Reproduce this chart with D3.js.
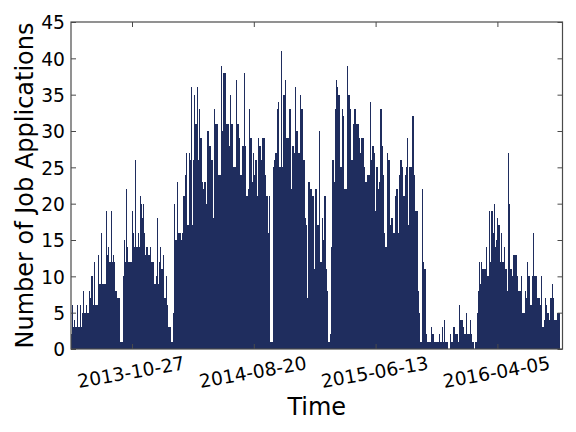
<!DOCTYPE html>
<html><head><meta charset="utf-8">
<script src="https://cdn.jsdelivr.net/npm/d3@7"></script>
<style>body{margin:0;background:#fff}svg{display:block}text{font-family:"DejaVu Sans",sans-serif}</style>
</head><body><svg id="c" width="576" height="432"></svg>
<script>
// Daily job applications (six consecutive chunks)
const appsA = [2,6,3,4,3,3,6,3,3,6,3,5,8,5,5,6,5,5,8,7,10,10,6,12,6,6,6,13,9,9,16,9,9,9,9,19,13,14,12,12,19,12,13,12,8,8,7,7,7,1,1,1,10,15,12,22,14,12,12,12,12,19,16,14,26,14,14,16,14,21,20,18,20,16,13,14,14,13,13,14,12,12];
const appsB = [12,9,9,10,18,9,12,14,11,11,13,7,7,10,6,3,3,3,1,1,5,20,15,15,23,16,16,16,15,16,21,21,24,27,17,17,27,26,36,17,26,35,31,31,36,26,33,29,29,23,22,23,23,20,30,30,28,28,26,26,18,33,31,31,31,24,24,24,39,30,38,38,38,31,31,31,28,35,31,31,25,25];
const appsC = [25,37,31,31,29,24,24,28,28,38,28,21,21,22,33,29,29,23,27,24,26,26,21,29,28,28,26,29,29,29,24,21,21,16,21,1,1,1,25,26,27,27,33,34,25,25,41,25,35,35,37,29,29,29,33,33,22,28,28,27,36,30,30,27,27,35,33,33,26,26,18,17,7,23,23,22,22,21,21,11,22,22];
const appsD = [17,17,30,12,12,18,15,21,21,11,8,1,1,2,14,26,26,23,33,37,36,35,35,25,25,33,32,22,22,22,39,35,35,33,26,26,31,33,33,31,31,31,29,27,29,29,29,25,23,23,24,24,24,34,26,28,28,27,19,25,25,22,23,33,33,28,24,16,14,14,27,26,26,17,18,18,16,16,21,22,22,16];
const appsE = [24,26,26,25,21,21,24,25,29,17,25,25,25,32,32,24,19,19,19,8,5,1,1,22,12,11,11,2,1,1,1,1,3,2,2,1,1,1,1,1,2,1,1,3,1,4,1,1,1,0,0,2,1,1,3,3,2,2,2,1,6,4,4,4,3,2,2,5,2,2,2,4,2,1,1,0,1,1,5,8,12,9];
const appsF = [12,11,11,11,11,14,10,10,19,12,19,19,16,20,14,15,18,17,17,12,16,12,12,14,11,11,8,27,20,11,11,10,13,13,13,13,10,8,8,8,10,5,5,5,8,7,12,10,10,6,6,10,16,10,10,10,7,7,7,6,10,3,3,4,7,6,5,5,4,7,7,9,7,4,4,4,5,5,5];
const applications = [].concat(appsA, appsB, appsC, appsD, appsE, appsF);

const xTickIndex = [61, 182.8, 304.6, 426.4];
const xTickLabels = ["2013-10-27", "2014-08-20", "2015-06-13", "2016-04-05"];
const yTicks = [0, 5, 10, 15, 20, 25, 30, 35, 40, 45];
const xMax = 491.5;

const L = 71, R = 562.5, T = 22, B = 349;
const svg = d3.select("#c");
const x = d3.scaleLinear().domain([0, xMax]).range([L, R]);
const y = d3.scaleLinear().domain([0, 45]).range([B, T]);

const barColor = "#1f2d5e";
svg.append("g").selectAll("rect").data(applications).join("rect")
  .attr("x", (d, i) => x(i))
  .attr("width", (d, i) => x(i + 1) - x(i))
  .attr("y", d => y(d))
  .attr("height", d => y(0) - y(d))
  .attr("fill", barColor)
  .attr("shape-rendering", "crispEdges");

const spine = "#4a4a4a";
const tickLen = 5;
function styleAxis(g) {
  g.select(".domain").remove();
  g.selectAll(".tick line").attr("stroke", spine).attr("stroke-width", 1);
  g.selectAll("text").attr("font-family", "DejaVu Sans").attr("font-size", 18.67).attr("fill", "#000");
}
svg.append("g").attr("transform", `translate(${L},0)`)
  .call(d3.axisLeft(y).tickValues(yTicks).tickSize(-tickLen).tickPadding(6))
  .call(styleAxis)
  .selectAll("text").attr("dy", "0.36em");
svg.append("g").attr("transform", `translate(${R},0)`)
  .call(d3.axisRight(y).tickValues(yTicks).tickSize(-tickLen).tickFormat(""))
  .call(styleAxis);
svg.append("g").attr("transform", `translate(0,${T})`)
  .call(d3.axisTop(x).tickValues(xTickIndex).tickSize(-tickLen).tickFormat(""))
  .call(styleAxis);
svg.append("g").attr("transform", `translate(0,${B})`)
  .call(d3.axisBottom(x).tickValues(xTickIndex).tickSize(-tickLen).tickFormat(""))
  .call(styleAxis);

// rotated date labels
svg.append("g").selectAll("text").data(xTickIndex).join("text")
  .attr("transform", d => `translate(${x(d) - 1},372) rotate(-10)`)
  .attr("text-anchor", "middle")
  .attr("dy", "0.36em")
  .attr("font-size", 18.67)
  .attr("fill", "#000")
  .text((d, i) => xTickLabels[i]);

// frame
svg.append("rect").attr("x", L).attr("y", T).attr("width", R - L).attr("height", B - T)
  .attr("fill", "none").attr("stroke", spine).attr("stroke-width", 1.2);

svg.append("text").attr("x", (L + R) / 2).attr("y", 415).attr("text-anchor", "middle")
  .attr("font-size", 24).attr("fill", "#000").text("Time");
svg.append("text").attr("transform", `translate(33,${(T + B) / 2}) rotate(-90)`)
  .attr("text-anchor", "middle").attr("font-size", 24).attr("fill", "#000")
  .text("Number of Job Applications");
</script></body></html>
